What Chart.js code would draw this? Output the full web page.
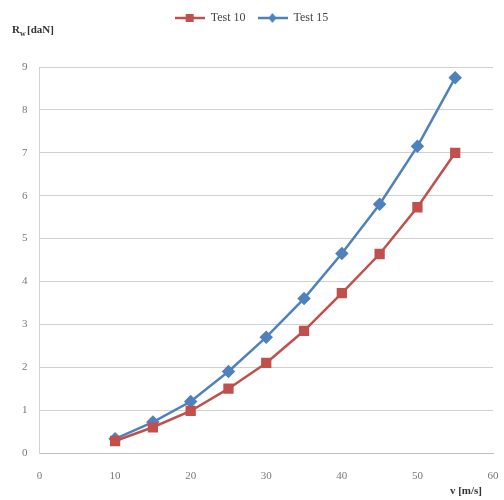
<!DOCTYPE html>
<html>
<head>
<meta charset="utf-8">
<script src="https://cdn.jsdelivr.net/npm/chart.js@4"></script>
<style>
  html, body { margin: 0; padding: 0; background: #fff; }
  #wrap { width: 504px; height: 500px; position: relative; }
</style>
</head>
<body>
<div id="wrap"><canvas id="chart"></canvas></div>
<script>
const speeds = [10, 15, 20, 25, 30, 35, 40, 45, 50, 55];
const test10 = [0.28, 0.6, 0.98, 1.5, 2.1, 2.85, 3.73, 4.64, 5.73, 7.0];
const test15 = [0.33, 0.72, 1.2, 1.9, 2.7, 3.6, 4.65, 5.8, 7.15, 8.75];
const seriesNames = ['Test 10', 'Test 15'];
const xTicks = [0, 10, 20, 30, 40, 50, 60];
const yTicks = [0, 1, 2, 3, 4, 5, 6, 7, 8, 9];

const red = '#C0504D';
const blue = '#4F81BD';

function legendIcon(color, style) {
    const c = document.createElement('canvas');
    c.width = 30; c.height = 12;
    const g = c.getContext('2d');
    g.strokeStyle = color;
    g.lineWidth = 2.5;
    g.beginPath(); g.moveTo(0, 6); g.lineTo(30, 6); g.stroke();
    g.fillStyle = color;
    if (style === 'rect') {
        g.fillRect(11, 2, 8, 8);
    } else {
        g.beginPath();
        g.moveTo(15, 1); g.lineTo(19, 6); g.lineTo(15, 11); g.lineTo(11, 6);
        g.closePath(); g.fill();
    }
    return c;
}

// leave room under the legend for the y axis title
const legendSpace = {
    id: 'legendSpace',
    beforeInit(chart) {
        const fit = chart.legend.fit;
        chart.legend.fit = function() {
            fit.bind(chart.legend)();
            this.height = 67;
        };
    }
};

const axisTitles = {
    id: 'axisTitles',
    afterDraw(chart) {
        const { ctx, chartArea } = chart;
        ctx.save();
        ctx.fillStyle = '#333';
        ctx.textBaseline = 'alphabetic';
        ctx.textAlign = 'left';
        ctx.font = 'bold 11px "Liberation Serif", serif';
        ctx.fillText('R', 12, 33);
        ctx.font = 'bold 8px "Liberation Serif", serif';
        ctx.fillText('w', 20, 36);
        ctx.font = 'bold 11px "Liberation Serif", serif';
        ctx.fillText('[daN]', 27, 33);
        ctx.textAlign = 'right';
        ctx.fillText('v [m/s]', chartArea.right - 11, 494);
        ctx.restore();
    }
};

const ctx = document.getElementById('chart').getContext('2d');
new Chart(ctx, {
    type: 'scatter',
    data: {
        datasets: [
            {
                label: seriesNames[0],
                data: speeds.map((v, i) => ({ x: v, y: test10[i] })),
                showLine: true,
                borderColor: red,
                backgroundColor: red,
                borderWidth: 2.5,
                pointStyle: 'rect',
                pointRadius: 5.5,
                pointHoverRadius: 5.5
            },
            {
                label: seriesNames[1],
                data: speeds.map((v, i) => ({ x: v, y: test15[i] })),
                showLine: true,
                borderColor: blue,
                backgroundColor: blue,
                borderWidth: 2.5,
                pointStyle: 'rectRot',
                pointRadius: 5,
                pointHoverRadius: 5
            }
        ]
    },
    options: {
        responsive: true,
        maintainAspectRatio: false,
        animation: false,
        layout: { padding: { left: 10, right: 11, top: 0, bottom: 0 } },
        plugins: {
            tooltip: { enabled: false },
            legend: {
                position: 'top',
                align: 'center',
                labels: {
                    usePointStyle: true,
                    pointStyleWidth: 30,
                    boxHeight: 12,
                    color: '#444',
                    font: { family: '"Liberation Serif", serif', size: 12 },
                    padding: 12,
                    generateLabels(chart) {
                        return chart.data.datasets.map((ds, i) => ({
                            text: ds.label,
                            pointStyle: legendIcon(ds.borderColor, i === 0 ? 'rect' : 'diamond'),
                            fillStyle: ds.borderColor,
                            strokeStyle: ds.borderColor,
                            fontColor: '#444',
                            lineWidth: 0,
                            datasetIndex: i,
                            hidden: false
                        }));
                    }
                }
            }
        },
        scales: {
            x: {
                type: 'linear',
                min: 0,
                max: 60,
                afterBuildTicks(axis) { axis.ticks = xTicks.map(v => ({ value: v })); },
                afterFit(axis) { axis.height = 47; axis.paddingRight = 0; },
                grid: { display: false, drawTicks: false },
                border: { display: true, color: '#BFBFBF', width: 1 },
                ticks: {
                    color: '#777',
                    padding: 17,
                    font: { family: '"Liberation Serif", serif', size: 11 }
                }
            },
            y: {
                min: 0,
                max: 9,
                afterBuildTicks(axis) { axis.ticks = yTicks.map(v => ({ value: v })); },
                grid: { color: '#D0D0D0', lineWidth: 1, drawTicks: false },
                border: { display: true, color: '#D0D0D0' },
                ticks: {
                    color: '#777',
                    padding: 12,
                    font: { family: '"Liberation Serif", serif', size: 11 }
                }
            }
        }
    },
    plugins: [legendSpace, axisTitles]
});
</script>
</body>
</html>
